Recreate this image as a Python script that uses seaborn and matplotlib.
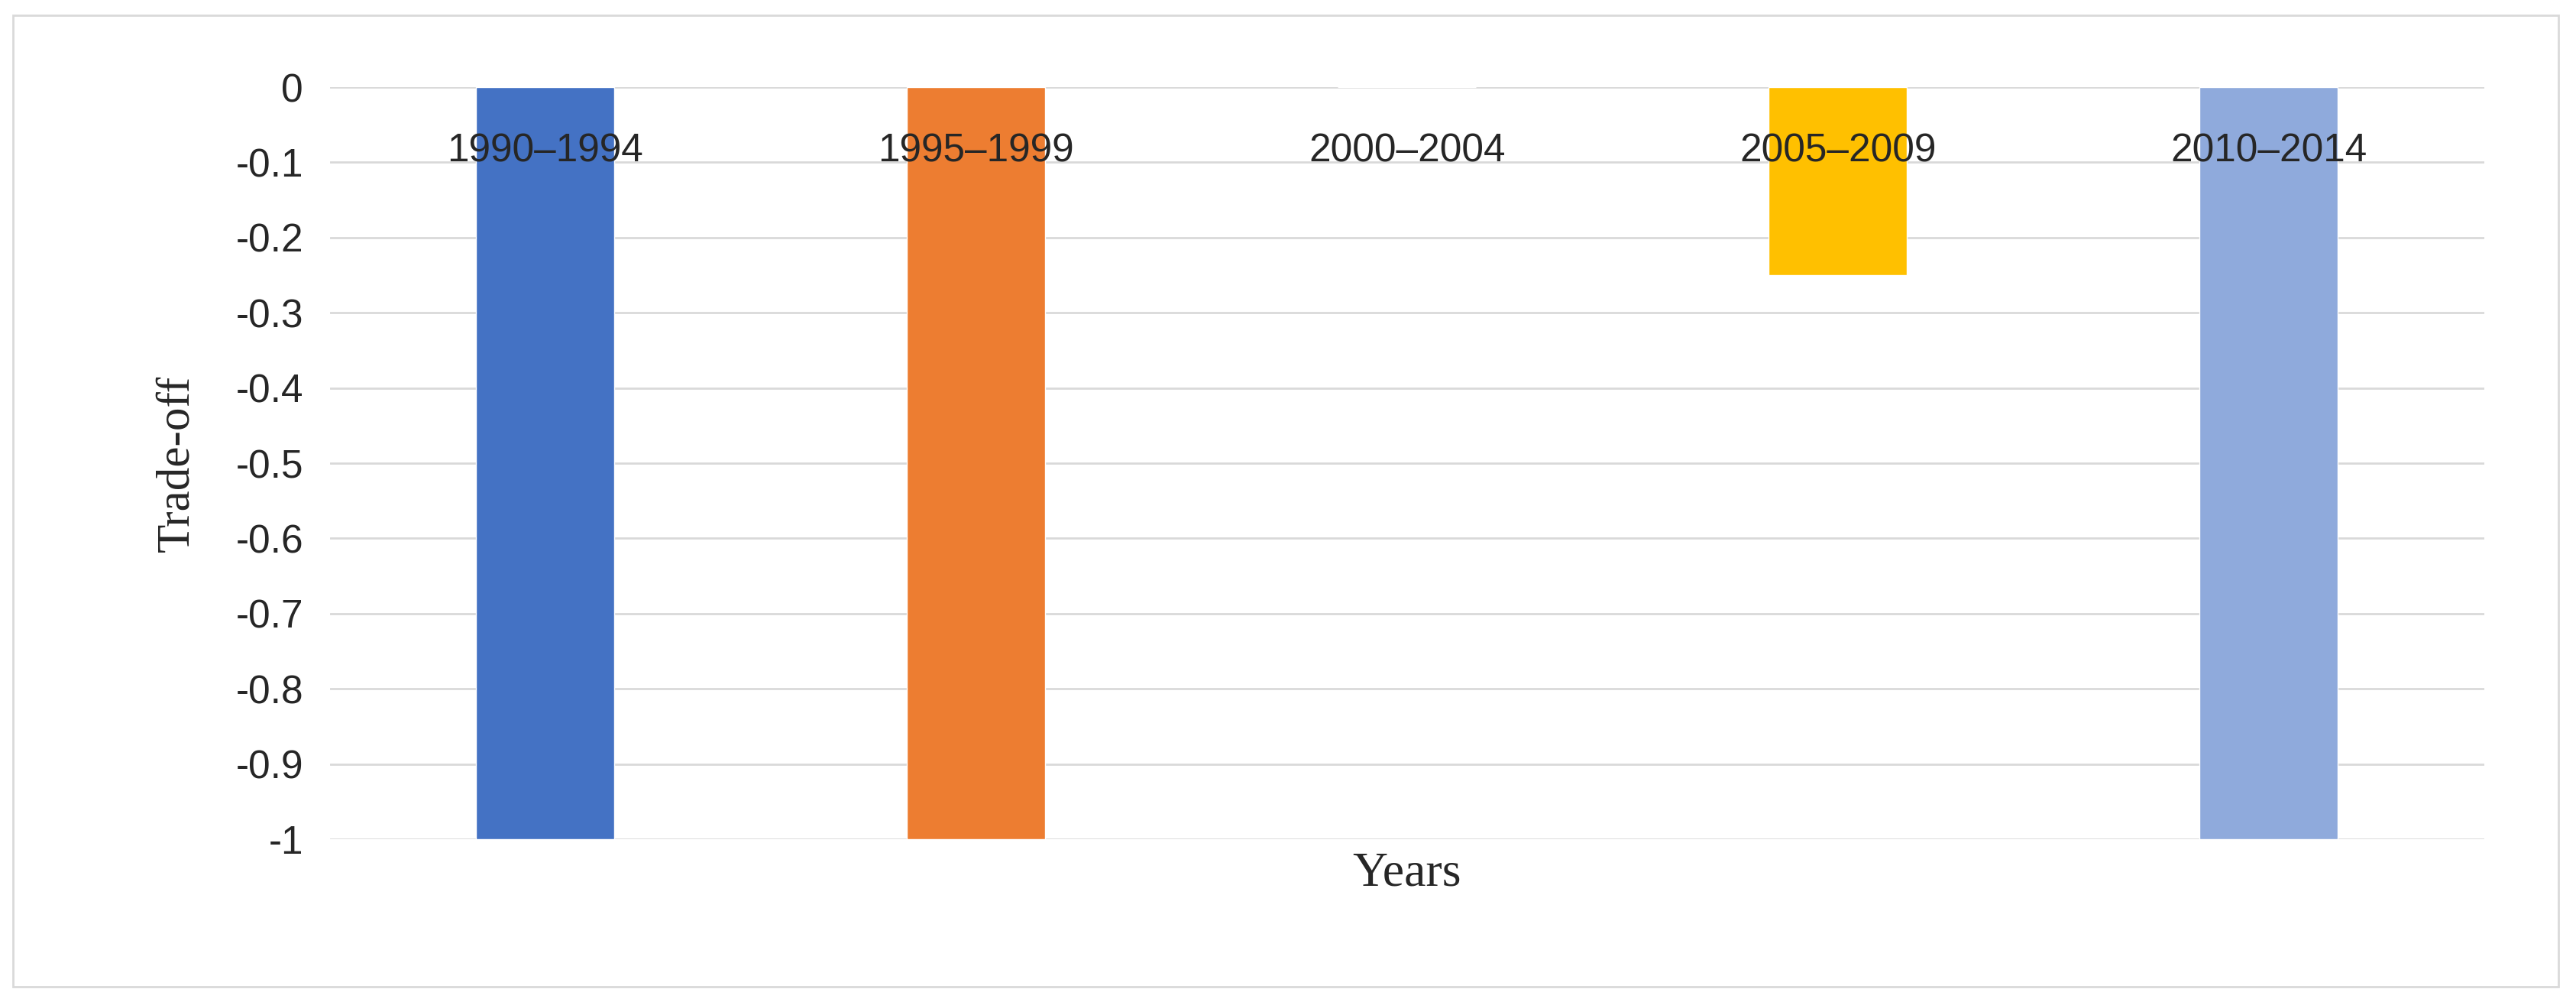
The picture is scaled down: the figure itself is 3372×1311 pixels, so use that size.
import matplotlib
matplotlib.use("Agg")
import matplotlib.pyplot as plt
import seaborn as sns
import pandas as pd
from matplotlib.patches import Rectangle

periods = ["1990\u20131994", "1995\u20131999", "2000\u20132004", "2005\u20132009", "2010\u20132014"]
values = [-1.0, -1.0, 0.0, -0.25, -1.0]
colors = ["#4472C4", "#ED7D31", "#A5A5A5", "#FFC000", "#8FAADC"]
yticks = [0, -0.1, -0.2, -0.3, -0.4, -0.5, -0.6, -0.7, -0.8, -0.9, -1]

sns.set_theme(style="white")
plt.rcParams['font.family'] = ['Liberation Sans', 'DejaVu Sans']

fig = plt.figure(figsize=(33.73, 13.11), dpi=100)
ax = fig.add_axes([0.128, 0.1625, 0.836, 0.7505])
df = pd.DataFrame({"period": periods, "value": values})
sns.barplot(data=df, x="period", y="value", hue="period", palette=colors,
            legend=False, width=0.32, ax=ax, saturation=1)
ax.set_ylim(-1, 0)
ax.set_xlim(-0.5, 4.5)
ax.set_yticks(yticks)
ax.set_yticklabels([f"{t:g}" for t in yticks], fontsize=37)
for t in yticks:
    ax.axhline(t, color="#D9D9D9", lw=2, zorder=0)
for s in ax.spines.values():
    s.set_visible(False)
ax.xaxis.tick_top()
ax.tick_params(axis="x", length=0, pad=-78, labelsize=37)
ax.tick_params(axis="y", length=0, pad=25)
ax.xaxis.set_zorder(10)
ax.set_xlabel("")
ax.set_ylabel("Trade-off", fontsize=44, family="Liberation Serif", labelpad=35)
fig.text(0.546, 0.128, "Years", ha="center", va="center", fontsize=46, family="Liberation Serif")
fig.patches.append(Rectangle((0.005, 0.015), 0.988, 0.97, transform=fig.transFigure,
                             fill=False, edgecolor="#D9D9D9", lw=2))
fig.savefig("out.png", dpi=100)
